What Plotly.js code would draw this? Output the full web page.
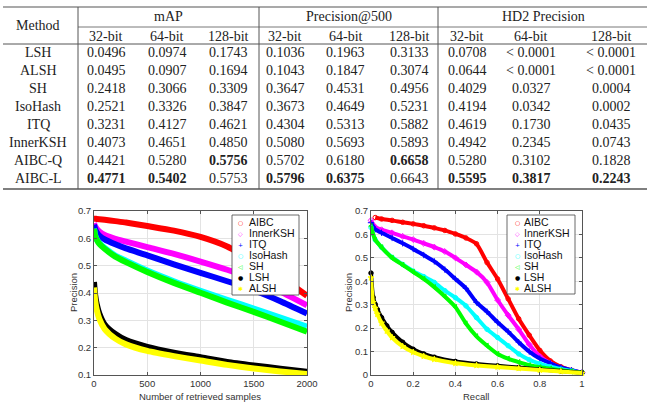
<!DOCTYPE html>
<html><head><meta charset="utf-8">
<script src="https://cdn.plot.ly/plotly-3.0.1.min.js"></script>
<style>html,body{margin:0;padding:0;background:#fff}#chart{width:651px;height:402px}</style>
</head><body><div id="chart"></div>
<script>
// ---------- table data ----------
const methods = ['LSH','ALSH','SH','IsoHash','ITQ','InnerKSH','AIBC-Q','AIBC-L'];
const groupNames = ['mAP','Precision@500','HD2 Precision'];
const bitLabels = ['32-bit','64-bit','128-bit'];
const mapScores = [[0.0496,0.0974,0.1743],[0.0495,0.0907,0.1694],[0.2418,0.3066,0.3309],[0.2521,0.3326,0.3847],[0.3231,0.4127,0.4621],[0.4073,0.4651,0.4850],[0.4421,0.5280,0.5756],[0.4771,0.5402,0.5753]];
const precisionAt500 = [[0.1036,0.1963,0.3133],[0.1043,0.1847,0.3074],[0.3647,0.4531,0.4956],[0.3673,0.4649,0.5231],[0.4304,0.5313,0.5882],[0.5080,0.5693,0.5893],[0.5702,0.6180,0.6658],[0.5796,0.6375,0.6643]];
const hd2Precision = [[0.0708,'< 0.0001','< 0.0001'],[0.0644,'< 0.0001','< 0.0001'],[0.4029,0.0327,0.0004],[0.4194,0.0342,0.0002],[0.4619,0.1730,0.0435],[0.4942,0.2345,0.0743],[0.5280,0.3102,0.1828],[0.5595,0.3817,0.2243]];

// ---------- chart data ----------
const seriesNames = ['AIBC','InnerKSH','ITQ','IsoHash','SH','LSH','ALSH'];
const seriesColors = ['#ff0000','#ff00ff','#0000ff','#00ffff','#00ff00','#000000','#ffff00'];
const legendGlyphs = ['○','◇','+','○','◁','●','✱'];

// Precision vs number of retrieved samples
const retrieved = [0,10,25,50,100,200,300,500,750,1000,1250,1500,1750,2000];
const precAIBC     = [0.672,0.672,0.671,0.670,0.668,0.663,0.658,0.645,0.628,0.605,0.570,0.515,0.458,0.390];
const precInnerKSH = [0.655,0.645,0.635,0.625,0.612,0.598,0.588,0.568,0.543,0.515,0.485,0.450,0.405,0.355];
const precITQ      = [0.650,0.635,0.622,0.610,0.596,0.578,0.563,0.538,0.505,0.474,0.443,0.410,0.370,0.325];
const precIsoHash  = [0.635,0.612,0.597,0.583,0.565,0.537,0.518,0.482,0.443,0.408,0.375,0.343,0.310,0.277];
const precSH       = [0.635,0.610,0.595,0.580,0.562,0.533,0.513,0.477,0.437,0.401,0.365,0.331,0.295,0.258];
const precLSH      = [0.440,0.395,0.360,0.325,0.285,0.250,0.228,0.203,0.182,0.165,0.148,0.135,0.123,0.112];
const precALSH     = [0.420,0.375,0.340,0.305,0.268,0.233,0.212,0.188,0.169,0.153,0.137,0.124,0.113,0.104];

// Precision-recall
const recAIBC  = [0.02,0.05,0.1,0.15,0.2,0.25,0.3,0.35,0.4,0.45,0.5,0.55,0.6,0.65,0.7,0.75,0.8,0.85,0.9,0.95,1];
const prAIBC   = [0.672,0.666,0.660,0.652,0.645,0.637,0.628,0.617,0.602,0.585,0.560,0.480,0.410,0.325,0.240,0.170,0.105,0.060,0.035,0.020,0.010];
const recMid   = [0,0.02,0.05,0.1,0.15,0.2,0.25,0.3,0.35,0.4,0.45,0.5,0.55,0.6,0.65,0.7,0.75,0.8,0.85,0.9,0.95,1];
const prInnerKSH = [0.660,0.632,0.620,0.607,0.592,0.578,0.562,0.546,0.527,0.500,0.470,0.440,0.395,0.320,0.255,0.195,0.130,0.080,0.050,0.030,0.018,0.010];
const prITQ      = [0.650,0.622,0.607,0.585,0.562,0.538,0.512,0.485,0.450,0.410,0.370,0.310,0.270,0.225,0.185,0.140,0.100,0.070,0.050,0.032,0.020,0.010];
const prIsoHash  = [0.630,0.577,0.545,0.502,0.472,0.443,0.420,0.395,0.360,0.330,0.295,0.245,0.195,0.160,0.125,0.090,0.065,0.048,0.035,0.025,0.017,0.010];
const prSH       = [0.635,0.577,0.545,0.500,0.470,0.440,0.410,0.375,0.335,0.290,0.220,0.165,0.125,0.090,0.070,0.055,0.042,0.033,0.027,0.020,0.015,0.010];
const recLow   = [0,0.01,0.02,0.03,0.05,0.075,0.1,0.15,0.2,0.25,0.3,0.4,0.5,0.6,0.7,0.8,0.9,1];
const prLSH    = [0.435,0.332,0.302,0.280,0.245,0.210,0.182,0.140,0.110,0.090,0.076,0.058,0.047,0.039,0.032,0.024,0.017,0.010];
const prALSH   = [0.415,0.310,0.285,0.260,0.222,0.188,0.160,0.122,0.097,0.080,0.067,0.050,0.041,0.034,0.028,0.021,0.015,0.008];

// ---------- helpers ----------
const W = 651, H = 402;
const px = x => x / W, py = y => 1 - y / H;

const annotations = [];
const shapes = [];
const serif = {family:'Liberation Serif, Times New Roman, serif', size:14, color:'#222'};
function txt(x, y, s, font, xanchor, angle) {
  annotations.push({xref:'paper', yref:'paper', x:px(x), y:py(y), text:s, showarrow:false,
    xanchor:xanchor || 'center', yanchor:'middle', font:font, borderpad:0, textangle:angle || 0});
}
function hline(x0, x1, y, w) {
  shapes.push({type:'line', xref:'paper', yref:'paper', x0:px(x0), x1:px(x1), y0:py(y), y1:py(y), line:{color:'#555', width:w}});
}
function vline(x, y0, y1, w) {
  shapes.push({type:'line', xref:'paper', yref:'paper', x0:px(x), x1:px(x), y0:py(y0), y1:py(y1), line:{color:'#555', width:w}});
}
const esc = s => String(s).replace(/</g,'&lt;');

// ---------- table ----------
const colX = [106,167,228,285,346,409,467,531,611];
const groupX = [168,349,543];
const tableTop = 7, groupLine = 27, headLine = 44, tableBottom = 189;
const rowY0 = 52.5, rowStep = 18;

hline(3, 647, tableTop, 1.2);
hline(78, 647, groupLine, 0.8);
hline(3, 647, headLine, 1.0);
hline(3, 647, tableBottom, 1.6);
[78, 259, 438].forEach(x => vline(x, tableTop, tableBottom, 1.0));

txt(38, 25.5, 'Method', serif);
groupNames.forEach((g, i) => txt(groupX[i], 16, esc(g), serif));
for (let g = 0; g < 3; g++) bitLabels.forEach((b, j) => txt(colX[g*3+j], 36, b, serif));

const tables = [mapScores, precisionAt500, hd2Precision];
const colMax = [];
tables.forEach(t => { for (let j = 0; j < 3; j++) colMax.push(Math.max(...t.map(r => typeof r[j] === 'number' ? r[j] : -1))); });

methods.forEach((m, i) => {
  const y = rowY0 + rowStep * i;
  txt(38, y, m, serif);
  tables.forEach((t, g) => {
    t[i].forEach((v, j) => {
      let s = typeof v === 'number' ? v.toFixed(4) : esc(v);
      if (typeof v === 'number' && v === colMax[g*3+j]) s = '<b>' + s + '</b>';
      txt(colX[g*3+j], y, s, serif);
    });
  });
});

// ---------- charts ----------
const leftSeries = [precAIBC, precInnerKSH, precITQ, precIsoHash, precSH, precLSH, precALSH];
const rightX = [recAIBC, recMid, recMid, recMid, recMid, recLow, recLow];
const rightY = [prAIBC, prInnerKSH, prITQ, prIsoHash, prSH, prLSH, prALSH];
const rightSymbols = ['circle-open','diamond-open','cross-thin-open','circle-open','triangle-left-open','circle','star'];

const traces = [];
leftSeries.forEach((ys, i) => traces.push({
  type:'scatter', mode:'lines', x:retrieved, y:ys, name:seriesNames[i], xaxis:'x', yaxis:'y',
  line:{color:seriesColors[i], width:6, shape:'spline', smoothing:0.6}, cliponaxis:false
}));
rightY.forEach((ys, i) => traces.push({
  type:'scatter', mode:'lines+markers', x:rightX[i], y:ys, name:seriesNames[i], xaxis:'x2', yaxis:'y2',
  line:{color:seriesColors[i], width:4, shape:'spline', smoothing:0.6},
  marker:{symbol:rightSymbols[i], size:4.5, color:seriesColors[i], line:{color:seriesColors[i], width:1}},
  cliponaxis:false
}));

const tickFont = {family:'Liberation Sans, Arial, sans-serif', size:9.5, color:'#333'};
const titleFont = {family:'Liberation Sans, Arial, sans-serif', size:9.5, color:'#333'};
function ax(extra) {
  return Object.assign({showgrid:true, gridcolor:'#e3e3e3', gridwidth:1, zeroline:false,
    showline:true, linecolor:'#555', linewidth:1, mirror:'ticks', ticks:'inside', ticklen:3,
    tickcolor:'#555', tickfont:tickFont, fixedrange:true}, extra);
}
const yDom = [1 - 375/H, 1 - 211/H];

// axis titles placed as text at the reference positions
txt(200, 396, 'Number of retrieved samples', titleFont);
txt(476, 396, 'Recall', titleFont);
txt(73, 293, 'Precision', titleFont, 'center', -90);
txt(348, 293, 'Precision', titleFont, 'center', -90);

// legends (custom, compact)
function legend(x0, y0, x1, y1, mx, tx) {
  shapes.push({type:'rect', xref:'paper', yref:'paper', x0:px(x0), x1:px(x1), y0:py(y0), y1:py(y1),
    fillcolor:'#fff', line:{color:'#444', width:0.8}, layer:'above'});
  seriesNames.forEach((n, i) => {
    const y = y0 + 7 + 11 * i;
    txt(mx, y, legendGlyphs[i], {family:'DejaVu Sans, sans-serif', size:6, color:seriesColors[i]});
    txt(tx, y, n, {family:'Liberation Sans, Arial, sans-serif', size:10.5, color:'#111'}, 'left');
  });
}
legend(232, 215, 299, 295, 240, 248);
legend(507, 215, 575, 294, 517, 523);

const layout = {
  width:W, height:H, margin:{l:0, r:0, t:0, b:0}, paper_bgcolor:'#fff', plot_bgcolor:'#fff',
  showlegend:false,
  xaxis: ax({domain:[94/W, 307/W], anchor:'y', range:[0,2000], tickvals:[0,500,1000,1500,2000]}),
  yaxis: ax({domain:yDom, anchor:'x', range:[0.1,0.7], tickvals:[0.1,0.2,0.3,0.4,0.5,0.6,0.7]}),
  xaxis2: ax({domain:[371/W, 582/W], anchor:'y2', range:[0,1], tickvals:[0,0.2,0.4,0.6,0.8,1]}),
  yaxis2: ax({domain:yDom, anchor:'x2', range:[0,0.7], tickvals:[0,0.1,0.2,0.3,0.4,0.5,0.6,0.7]}),
  annotations, shapes
};
Plotly.newPlot('chart', traces, layout, {staticPlot:true, displayModeBar:false});
</script></body></html>
